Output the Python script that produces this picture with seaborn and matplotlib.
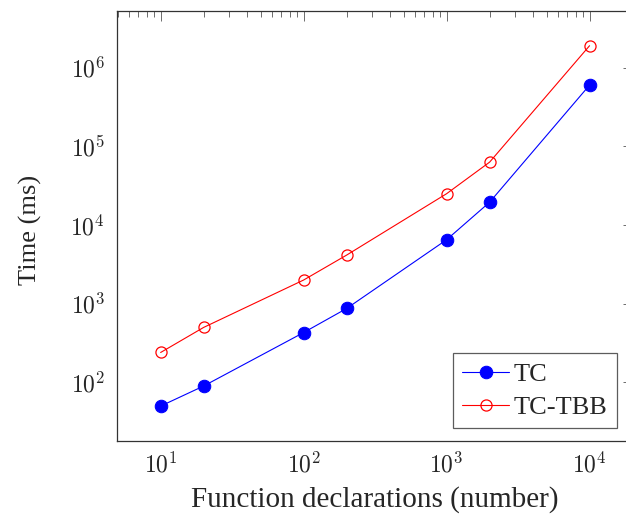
import math
import matplotlib
matplotlib.use("Agg")
import matplotlib.pyplot as plt
import pandas as pd
import seaborn as sns
from matplotlib.ticker import LogLocator, NullFormatter, FuncFormatter

# data
decls = [10, 20, 100, 200, 1000, 2000, 10000]
tc_ms = [50, 90, 430, 870, 6500, 19500, 600000]
tc_tbb_ms = [240, 500, 2000, 4150, 25000, 63000, 1900000]
labels = ["TC", "TC-TBB"]

sns.set_theme(style="white")
plt.rcParams["font.family"] = ["Liberation Serif", "DejaVu Serif"]
plt.rcParams["mathtext.fontset"] = "cm"

df = pd.DataFrame({"decls": decls, "TC": tc_ms, "TC-TBB": tc_tbb_ms})

fig = plt.figure(figsize=(6.26, 5.16), dpi=100)
ax = fig.add_axes([0.1874, 0.1453, 0.8236, 0.8334])

sns.lineplot(
    data=df, x="decls", y="TC", ax=ax,
    color="#0000ff", linewidth=0.8,
    marker="o", markersize=9, markerfacecolor="#0000ff", markeredgecolor="#0000ff",
    label=labels[0],
)
sns.lineplot(
    data=df, x="decls", y="TC-TBB", ax=ax,
    color="#ff0000", linewidth=0.8,
    marker="o", markersize=8, markerfacecolor="none", markeredgecolor="#ff0000",
    markeredgewidth=0.9, label=labels[1],
)

ax.set_xscale("log")
ax.set_yscale("log")
ax.set_xlim(10 ** 0.697, 10 ** 4.303)
ax.set_ylim(10 ** 1.255, 10 ** 6.72)

pow_fmt = FuncFormatter(lambda v, pos: r"$10^{%d}$" % round(math.log10(v)))
ax.xaxis.set_major_locator(LogLocator(base=10, numticks=10))
ax.yaxis.set_major_locator(LogLocator(base=10, numticks=10))
ax.xaxis.set_major_formatter(pow_fmt)
ax.yaxis.set_major_formatter(pow_fmt)
ax.xaxis.set_minor_locator(LogLocator(base=10, subs=range(2, 10), numticks=20))
ax.yaxis.set_minor_locator(LogLocator(base=10, subs=range(2, 10), numticks=20))
ax.xaxis.set_minor_formatter(NullFormatter())
ax.yaxis.set_minor_formatter(NullFormatter())

ax.tick_params(which="both", direction="in", top=True, right=True,
               color="#555555", width=0.6)
ax.tick_params(which="major", length=7, labelsize=17)
ax.tick_params(axis="x", which="major", pad=8)
ax.tick_params(axis="y", which="major", pad=9)
ax.tick_params(which="minor", length=4)

for spine in ax.spines.values():
    spine.set_linewidth(0.9)
    spine.set_color("#333333")

ax.set_xlabel("Function declarations (number)", fontsize=21)
ax.set_ylabel("Time (ms)", fontsize=19)
ax.xaxis.label.set_va("center")
ax.yaxis.label.set_va("center")
ax.xaxis.set_label_coords(0.499, -0.136)
ax.yaxis.set_label_coords(-0.169, 0.49)
ax.grid(False)

leg = ax.legend(loc="lower right", bbox_to_anchor=(0.969, 0.030),
                borderaxespad=0, fontsize=19, frameon=True, fancybox=False,
                edgecolor="#333333", handlelength=1.75, borderpad=0.35,
                labelspacing=0.35, handletextpad=0.2)
leg.get_frame().set_linewidth(0.9)

fig.savefig("out.png", dpi=100)
